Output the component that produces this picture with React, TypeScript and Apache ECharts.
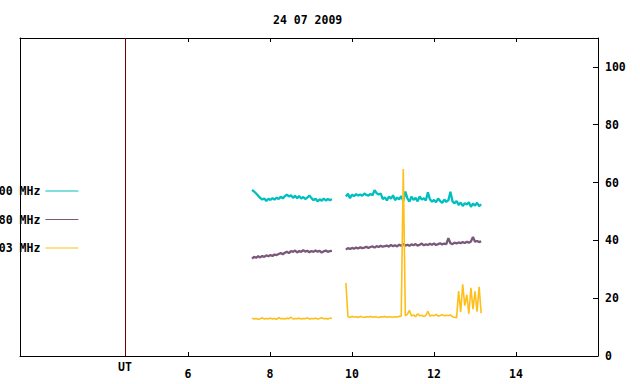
import React, { useEffect, useRef } from "react";
import * as echarts from "echarts";

const chartTitle = "24 07 2009";
const seriesNames = ["2800 MHz", "1080 MHz", "1003 MHz"];
const seriesColors = ["#00bfbf", "#7a587a", "#ffbf1a"];

// time grid of the two recording segments (hours UT)
const seg1Start = 7.56;
const seg2Start = 9.85;
const step = 0.05;

const teal1 = [57.4, 56.9, 56.2, 55.4, 54.7, 54.1, 54.5, 53.6, 54.4, 54.0, 54.6, 54.1, 54.8, 54.3, 55.1, 54.5, 55.3, 55.8, 55.2, 55.6, 54.7, 55.4, 54.6, 55.3, 54.5, 55.0, 54.3, 54.8, 55.5, 54.6, 53.9, 54.4, 53.5, 54.2, 53.7, 54.5, 53.8, 54.3, 53.9, 54.2];
const teal2 = [55.2, 56.1, 54.6, 55.8, 55.3, 56.0, 55.5, 55.9, 55.4, 56.2, 55.7, 55.5, 56.1, 55.6, 57.4, 56.3, 55.9, 56.2,
  54.3, 54.9, 53.8, 55.2, 54.4, 55.6, 53.9, 54.8, 54.2, 55.3, 53.6, 56.9, 54.5, 53.4, 55.1, 54.0, 54.7, 53.5, 55.2, 54.1, 54.6, 53.8, 56.6,
  54.2, 53.4, 54.0, 53.2, 54.5, 53.6, 53.0, 54.1, 53.3, 53.9, 56.8, 53.5,
  52.8, 53.6, 52.2, 53.1, 51.9, 52.9, 52.4, 53.2, 51.6, 52.7, 52.0, 53.0, 51.8, 52.5];

const purple1 = [33.7, 34.3, 34.0, 34.5, 34.1, 34.6, 34.3, 34.8, 34.5, 34.9, 34.6, 35.1, 34.9, 35.3, 35.6, 35.2, 35.7, 36.1, 35.6, 36.3, 36.0, 36.5, 35.8, 36.3, 36.0, 36.6, 36.1, 36.4, 35.9, 36.3, 36.0, 36.5, 36.1, 36.4, 35.8, 36.2, 36.5, 36.0, 36.3, 36.4];
const purple2 = [36.8, 37.3, 37.0, 37.4, 37.1, 37.5, 37.2, 37.6, 37.3, 37.5,
  37.8, 37.4, 37.7, 37.9, 37.5, 38.0, 37.7, 38.1, 37.8, 38.0,
  38.2, 37.8, 38.4, 38.0, 38.3, 37.9, 38.5, 38.1, 38.8, 38.2,
  38.5, 38.1, 38.6, 38.3, 38.7, 38.2, 38.5, 38.9, 38.3, 38.6,
  38.4, 38.8, 38.5, 38.9, 38.4, 38.7, 39.0, 38.6, 38.9, 38.7,
  40.8, 39.0, 38.7, 39.2, 38.9, 39.3, 39.0, 39.4, 39.1, 39.5,
  39.2, 39.6, 41.2, 39.5, 39.8, 39.4, 39.7];

const yellow1 = [13.1, 12.8, 13.0, 12.7, 12.9, 13.2, 12.8, 13.0, 12.9, 13.1, 12.8, 13.0, 12.7, 13.3, 12.9, 13.0, 12.8, 13.1, 12.9, 13.4, 12.8, 13.0, 12.9, 13.1, 12.8, 13.0, 12.9, 13.2, 12.8, 13.0, 12.9, 13.1, 12.8, 13.0, 13.2, 12.9, 13.0, 12.8, 13.1, 13.0];
const yellow2 = [25.3,
  13.6, 13.4, 13.7, 13.5, 13.6, 13.3, 13.7, 13.5, 13.4, 13.6, 13.5, 13.7, 13.4, 13.6, 13.5, 13.3, 13.6, 13.5, 13.7, 13.4, 13.6, 13.5, 13.4, 13.6, 13.5, 13.7,
  13.8, 64.7, 13.9,
  14.4, 15.8, 13.8, 14.2, 13.6, 14.6, 13.9, 14.1, 13.7, 14.0, 15.5, 13.8, 14.1, 13.9, 14.4, 13.8, 14.0, 14.3, 13.9, 14.1, 14.0, 14.2, 13.6, 13.4, 13.2,
  22.5, 15.2, 24.8, 17.4, 21.2, 14.6, 23.6, 16.2, 22.4, 15.3, 23.9, 14.8];

const xMin = 1.9;
const xMax = 16;
const yMin = 0;
const yMax = 110;
const xTicks = [6, 8, 10, 12, 14];
const yTicks = [0, 20, 40, 60, 80, 100];
const utHour = 4.46;
const utLabel = "UT";

const FONT = "'DejaVu Sans Mono', monospace";

function buildSeries(seg1: number[], seg2: number[]) {
  const out: (number | null)[][] = [];
  seg1.forEach((v, i) => out.push([seg1Start + i * step, v]));
  const end1 = seg1Start + (seg1.length - 1) * step;
  out.push([(end1 + seg2Start) / 2, null]);
  seg2.forEach((v, i) => out.push([seg2Start + i * step, v]));
  return out;
}

export default function App() {
  const ref = useRef<HTMLDivElement>(null);
  useEffect(() => {
    if (!ref.current) return;
    const chart = echarts.init(ref.current, undefined, { renderer: "svg" });
    const textBase = { fontFamily: FONT, fontWeight: "bold" as const, fontSize: 11.5, color: "#000" };
    const datasets = [buildSeries(teal1, teal2), buildSeries(purple1, purple2), buildSeries(yellow1, yellow2)];
    const widths = [2.3, 2.3, 1.6];
    const series: any[] = datasets.map((d, k) => ({
      name: seriesNames[k],
      type: "line",
      data: d,
      showSymbol: false,
      symbol: "none",
      connectNulls: false,
      color: seriesColors[k],
      lineStyle: { width: widths[k], color: seriesColors[k] },
      z: 2 + k,
    }));
    series[0].markLine = {
      silent: true,
      symbol: ["none", "none"],
      lineStyle: { color: "#700000", width: 1, type: "solid" },
      label: { show: true, position: "start", formatter: utLabel, distance: 5, ...textBase },
      data: [{ xAxis: utHour }],
    };
    const axisLine = { show: true, onZero: false, lineStyle: { color: "#000", width: 1 } };
    chart.setOption({
      animation: false,
      backgroundColor: "#fff",
      title: {
        text: chartTitle,
        left: 273,
        top: 13.5,
        padding: 0,
        textStyle: { ...textBase },
      },
      legend: {
        orient: "vertical",
        left: -15,
        top: 184,
        padding: 0,
        align: "right",
        icon: "rect",
        itemWidth: 33,
        itemHeight: 1,
        itemGap: 14.5,
        textStyle: { ...textBase, lineHeight: 14 },
        data: seriesNames,
      },
      grid: { left: 20, right: 42, top: 38, bottom: 28, containLabel: false },
      xAxis: [
        {
          type: "value",
          min: xMin,
          max: xMax,
          position: "bottom",
          axisLine,
          axisTick: { show: true, inside: true, length: 4, customValues: xTicks, lineStyle: { color: "#000" } },
          axisLabel: { show: true, customValues: xTicks, margin: 12, ...textBase },
          splitLine: { show: false },
        },
        {
          type: "value",
          min: xMin,
          max: xMax,
          position: "top",
          axisLine,
          axisTick: { show: true, inside: true, length: 4, customValues: xTicks, lineStyle: { color: "#000" } },
          axisLabel: { show: false },
          splitLine: { show: false },
        },
      ],
      yAxis: [
        {
          type: "value",
          min: yMin,
          max: yMax,
          position: "right",
          axisLine,
          axisTick: { show: true, inside: true, length: 5, customValues: yTicks, lineStyle: { color: "#000" } },
          axisLabel: { show: true, customValues: yTicks, margin: 7, padding: [3, 0, 0, 0], ...textBase },
          splitLine: { show: false },
        },
        {
          type: "value",
          min: yMin,
          max: yMax,
          position: "left",
          axisLine,
          axisTick: { show: false },
          axisLabel: { show: false },
          splitLine: { show: false },
        },
      ],
      series,
    });
    return () => chart.dispose();
  }, []);
  return <div ref={ref} style={{ position: "absolute", left: 0, top: 0, width: 640, height: 384 }} />;
}
